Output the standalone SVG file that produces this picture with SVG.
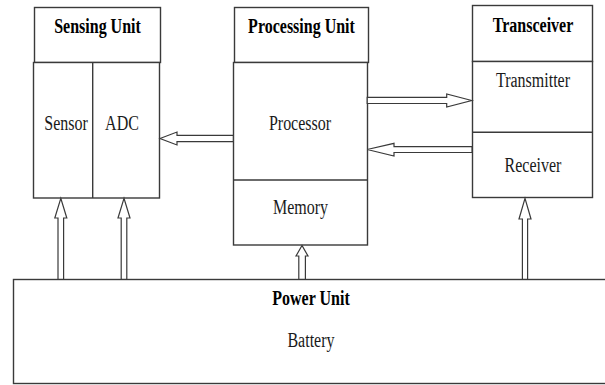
<svg xmlns="http://www.w3.org/2000/svg" width="605" height="385" viewBox="0 0 605 385">
<style>
.box{fill:#fff;stroke:#3a3a3a;stroke-width:1.4}
.ln{stroke:#3a3a3a;stroke-width:1.4;fill:none}
.arr{fill:#fff;stroke:#3a3a3a;stroke-width:1.2;stroke-linejoin:miter}
.t{font-family:"Liberation Serif","Times New Roman",serif;font-size:16px;fill:#1a1a1a;text-anchor:middle}
.b{font-weight:bold;fill:#000}
</style>
<rect width="605" height="385" fill="#fff"/>
<g id="power-unit">
<rect class="box" x="13.5" y="279.5" width="600" height="104"/>
<text class="t b" transform="translate(311 305) scale(1 1.35)">Power Unit</text>
<text class="t" transform="translate(311 347) scale(1 1.35)">Battery</text>
</g>
<g id="sensing-unit">
<rect class="box" x="34.5" y="7.5" width="126" height="55"/>
<rect class="box" x="33.5" y="62.5" width="126" height="135.5"/>
<line class="ln" x1="92.7" y1="62.5" x2="92.7" y2="198"/>
<text class="t b" transform="translate(97.5 33) scale(1 1.35)">Sensing Unit</text>
<text class="t" transform="translate(66 130) scale(1 1.35)">Sensor</text>
<text class="t" transform="translate(122 130) scale(1 1.35)">ADC</text>
</g>
<g id="processing-unit">
<rect class="box" x="234.5" y="7.5" width="134" height="55"/>
<rect class="box" x="233.5" y="62.5" width="134" height="182.5"/>
<line class="ln" x1="233.5" y1="180" x2="367.5" y2="180"/>
<text class="t b" transform="translate(301.5 33) scale(1 1.35)">Processing Unit</text>
<text class="t" transform="translate(300 130) scale(1 1.35)">Processor</text>
<text class="t" transform="translate(300.5 214) scale(1 1.35)">Memory</text>
</g>
<g id="transceiver">
<rect class="box" x="472.5" y="5.5" width="120" height="56"/>
<rect class="box" x="472.5" y="61.5" width="120" height="136"/>
<line class="ln" x1="472.5" y1="132.3" x2="592.5" y2="132.3"/>
<text class="t b" transform="translate(533 31.5) scale(1 1.35)">Transceiver</text>
<text class="t" transform="translate(533 86.5) scale(1 1.35)">Transmitter</text>
<text class="t" transform="translate(533 171.5) scale(1 1.35)">Receiver</text>
</g>
<g id="connectors">
<polygon class="arr" points="160,138.5 177,132 177,135.3 233.3,135.3 233.3,141.7 177,141.7 177,145"/>
<polygon class="arr" points="471.7,100.5 446.7,94 446.7,97.3 367.2,97.3 367.2,103.5 446.7,103.5 446.7,107"/>
<polygon class="arr" points="367.2,149.5 394,143.3 394,146.7 472,146.7 472,152.5 394,152.5 394,156"/>
<polygon class="arr" points="60.8,198.3 54.8,218 58,218 58,279.3 63.6,279.3 63.6,218 66.8,218"/>
<polygon class="arr" points="124,198.3 118,218 121.2,218 121.2,279.3 126.8,279.3 126.8,218 130,218"/>
<polygon class="arr" points="302,245.5 296,256 298.8,256 298.8,279.3 305.4,279.3 305.4,256 308,256"/>
<polygon class="arr" points="525,198.3 519,219 522.4,219 522.4,279.3 527.6,279.3 527.6,219 531,219"/>
</g>
</svg>
